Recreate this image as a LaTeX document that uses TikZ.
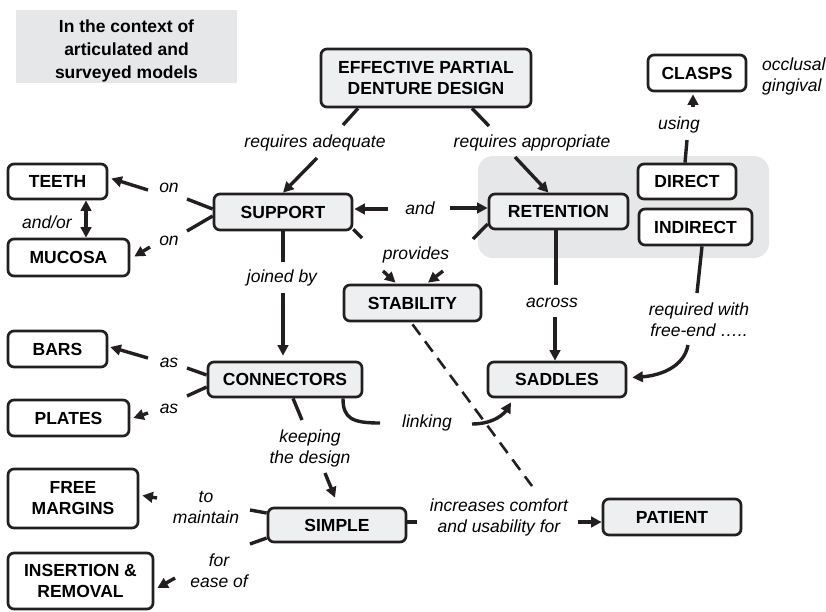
\documentclass[tikz,border=0pt]{standalone}
\usepackage{fontspec}
\setmainfont{Liberation Sans}
\usetikzlibrary{arrows.meta,calc}
\definecolor{ink}{HTML}{231F20}
\definecolor{boxgrey}{HTML}{EEEFF1}
\definecolor{bggrey}{HTML}{E6E7E8}
\tikzset{
  mytri/.tip={Triangle[length=10.5pt,width=10.5pt]},
  concept/.style={draw=ink, line width=2.7pt, rounded corners=6pt, fill=boxgrey, inner sep=0pt, align=center, font=\fontsize{17.5}{21}\selectfont\bfseries, text=black},
  leaf/.style={concept, fill=white},
  lbl/.style={inner sep=0pt, align=center, font=\fontsize{17.5}{21}\selectfont\itshape, text=black},
  link/.style={draw=ink, line width=3.4pt},
  arr/.style={link, -mytri},
  dashline/.style={draw=ink, line width=2.6pt, dash pattern=on 13pt off 8pt},
}
\begin{document}
\begin{tikzpicture}[x=1pt,y=-1pt]
\useasboundingbox (0,0) rectangle (826,611);
% context box
\node[fill=bggrey, minimum width=221pt, minimum height=73pt, inner sep=0pt] (ctx) at (126.5,46.5) {};
\node[inner sep=0pt, align=center, font=\fontsize{17.5}{23}\selectfont\bfseries] (ctxtext) at ($(ctx.center)+(0,4)$) {In the context of\\articulated and\\surveyed models};
% retention zone
\node[fill=bggrey, rounded corners=15pt, minimum width=291pt, minimum height=102pt, inner sep=0pt] (retzone) at (623.5,207) {};
% concepts
\node[concept, minimum width=210pt, minimum height=58pt] (epdd) at (426,78) {EFFECTIVE PARTIAL\\DENTURE DESIGN};
\node[leaf, minimum width=99pt, minimum height=35pt] (teeth) at (57.5,181.5) {TEETH};
\node[leaf, minimum width=121pt, minimum height=37pt] (mucosa) at (68.5,257.5) {MUCOSA};
\node[concept, minimum width=138pt, minimum height=36pt] (sup) at (283,212) {SUPPORT};
\node[concept, minimum width=139pt, minimum height=35pt] (ret) at (558.5,211.5) {RETENTION};
\node[leaf, minimum width=98pt, minimum height=35pt] (direct) at (687,181.5) {DIRECT};
\node[leaf, minimum width=113pt, minimum height=36pt] (indirect) at (695.5,227) {INDIRECT};
\node[leaf, minimum width=98pt, minimum height=36pt] (clasps) at (697,73) {CLASPS};
\node[concept, minimum width=137pt, minimum height=36pt] (stab) at (412.5,303) {STABILITY};
\node[concept, minimum width=138pt, minimum height=35pt] (saddles) at (557,379.5) {SADDLES};
\node[leaf, minimum width=99pt, minimum height=36pt] (bars) at (57.5,349) {BARS};
\node[leaf, minimum width=121pt, minimum height=36pt] (plates) at (68.5,418) {PLATES};
\node[concept, minimum width=154pt, minimum height=35pt] (conn) at (285,379.5) {CONNECTORS};
\node[leaf, minimum width=130pt, minimum height=59pt] (free) at (73,498.5) {FREE\\MARGINS};
\node[concept, minimum width=138pt, minimum height=34pt] (simple) at (337,525) {SIMPLE};
\node[leaf, minimum width=145pt, minimum height=56pt] (ins) at (80.5,581) {INSERTION \&\\REMOVAL};
\node[concept, minimum width=138pt, minimum height=36pt] (patient) at (672,517) {PATIENT};
% labels
\node[lbl] (lreqad) at (315,143) {requires adequate};
\node[lbl] (lreqap) at (532,143) {requires appropriate};
\node[lbl] (lon1) at (169,188) {on};
\node[lbl] (lon2) at (169,241) {on};
\node[lbl] (landor) at (47,222) {and/or};
\node[lbl] (land) at (420,208) {and};
\node[lbl] (lprov) at (416,255) {provides};
\node[lbl] (ljoin) at (282,278) {joined by};
\node[lbl] (lacross) at (552,303) {across};
\node[lbl] (lusing) at (679,125) {using};
\node[lbl] (lreqw) at (699,320) {required with\\free-end …..};
\node[lbl] (las1) at (169,363) {as};
\node[lbl] (las2) at (169,409) {as};
\node[lbl] (llink) at (427,423) {linking};
\node[lbl] (lkeep) at (310,448) {keeping\\the design};
\node[lbl] (lmaint) at (206,507) {to\\maintain};
\node[lbl] (lease) at (219,571) {for\\ease of};
\node[lbl] (lincr) at (499,517) {increases comfort\\and usability for};
\node[lbl, anchor=west, align=left] (locc) at (762,76) {occlusal\\gingival};
% connectors
\draw[link] ($(epdd.south)+(-68,0)$) -- ($(lreqad)+(28,-18)$);
\draw[arr] ($(lreqad)+(2,15)$) -- (sup.north);
\draw[link] ($(epdd.south)+(46,0)$) -- ($(lreqap)+(-43,-17)$);
\draw[arr] ($(lreqap)+(-17,14)$) -- ($(ret.north)+(-10,0)$);
\draw[link] ($(sup.west)+(0,-3)$) -- ($(lon1)+(18,11)$);
\draw[arr] ($(lon1)+(-21,2)$) -- ($(teeth.east)+(3,-3)$);
\draw[link] ($(sup.west)+(0,4)$) -- ($(lon2)+(18,-10)$);
\draw[arr] ($(lon2)+(-19,6)$) -- ($(mucosa.east)+(4,-1)$);
\draw[link, mytri-mytri] ($(teeth.south)+(28.5,0)$) -- ($(mucosa.north)+(17.5,0)$);
\draw[arr] ($(land)+(-32,1)$) -- ($(sup.east)+(1,-3)$);
\draw[arr] ($(land)+(30,0)$) -- ($(ret.west)+(0,-3.5)$);
\draw[link] ($(sup.south east)+(0,-2)$) -- ($(lprov)+(-54,-17)$);
\draw[arr] ($(lprov)+(-33,16)$) -- ($(stab.north)+(-17,-1)$);
\draw[link] ($(ret.west)+(0,12.5)$) -- ($(lprov)+(57,-16)$);
\draw[arr] ($(lprov)+(27,16)$) -- ($(stab.north)+(15.5,-1)$);
\draw[link] (sup.south) -- ($(ljoin)+(1,-16)$);
\draw[arr] ($(ljoin)+(1,15)$) -- ($(conn.north)+(-2,-5)$);
\draw[link] ($(ret.south)+(-2.5,0)$) -- ($(lacross)+(4,-18)$);
\draw[arr] ($(lacross)+(3,14)$) -- ($(saddles.north)+(-2,0)$);
\draw[link] ($(indirect.south)+(6.5,0)$) -- ($(lreqw)+(-2,-27)$);
\draw[arr] ($(lreqw)+(-11,25)$) .. controls ($(lreqw)+(-15,47)$) and ($(saddles.east)+(33,-4)$) .. ($(saddles.east)+(5,-2)$);
\draw[link] ($(direct.north)+(-2,0)$) -- ($(lusing)+(8,15)$);
\draw[arr] ($(lusing)+(14,-18)$) -- ($(clasps.south)+(-4,2)$);
\draw[link] ($(conn.west)+(0,-4.5)$) -- ($(las1)+(18,5)$);
\draw[arr] ($(las1)+(-21,-5)$) -- ($(bars.east)+(2,-2)$);
\draw[link] ($(conn.west)+(0,7.5)$) -- ($(las2)+(18,-13)$);
\draw[arr] ($(las2)+(-21,4)$) -- ($(plates.east)+(3,0)$);
\draw[link] ($(conn.south)+(58,0)$) .. controls ($(conn.south)+(58,20)$) and ($(llink)+(-75,0)$) .. ($(llink)+(-47,0)$);
\draw[arr] ($(llink)+(45,1)$) .. controls ($(llink)+(68,1)$) and ($(saddles.south)+(-52,14)$) .. ($(saddles.south)+(-46,4)$);
\draw[link] ($(conn.south)+(8,0)$) -- ($(lkeep)+(-8,-28)$);
\draw[arr] ($(lkeep)+(15,25)$) -- ($(simple.north)+(-2,-9)$);
\draw[link] ($(simple.west)+(0,-12)$) -- ($(lmaint)+(44,3)$);
\draw[arr] ($(lmaint)+(-49,-9)$) -- ($(free.east)+(3,-3)$);
\draw[link] ($(simple.west)+(0,13)$) -- ($(lease)+(31,-27)$);
\draw[arr] ($(lease)+(-44,7)$) -- ($(ins.east)+(3,7)$);
\draw[link] ($(simple.east)+(0,-3)$) -- ($(lincr)+(-82,5)$);
\draw[arr] ($(lincr)+(79,5)$) -- ($(patient.west)+(0,5)$);
\draw[dashline] ($(stab.south)+(0,2)$) -- ($(lincr)+(33,-31)$);
\end{tikzpicture}
\end{document}
